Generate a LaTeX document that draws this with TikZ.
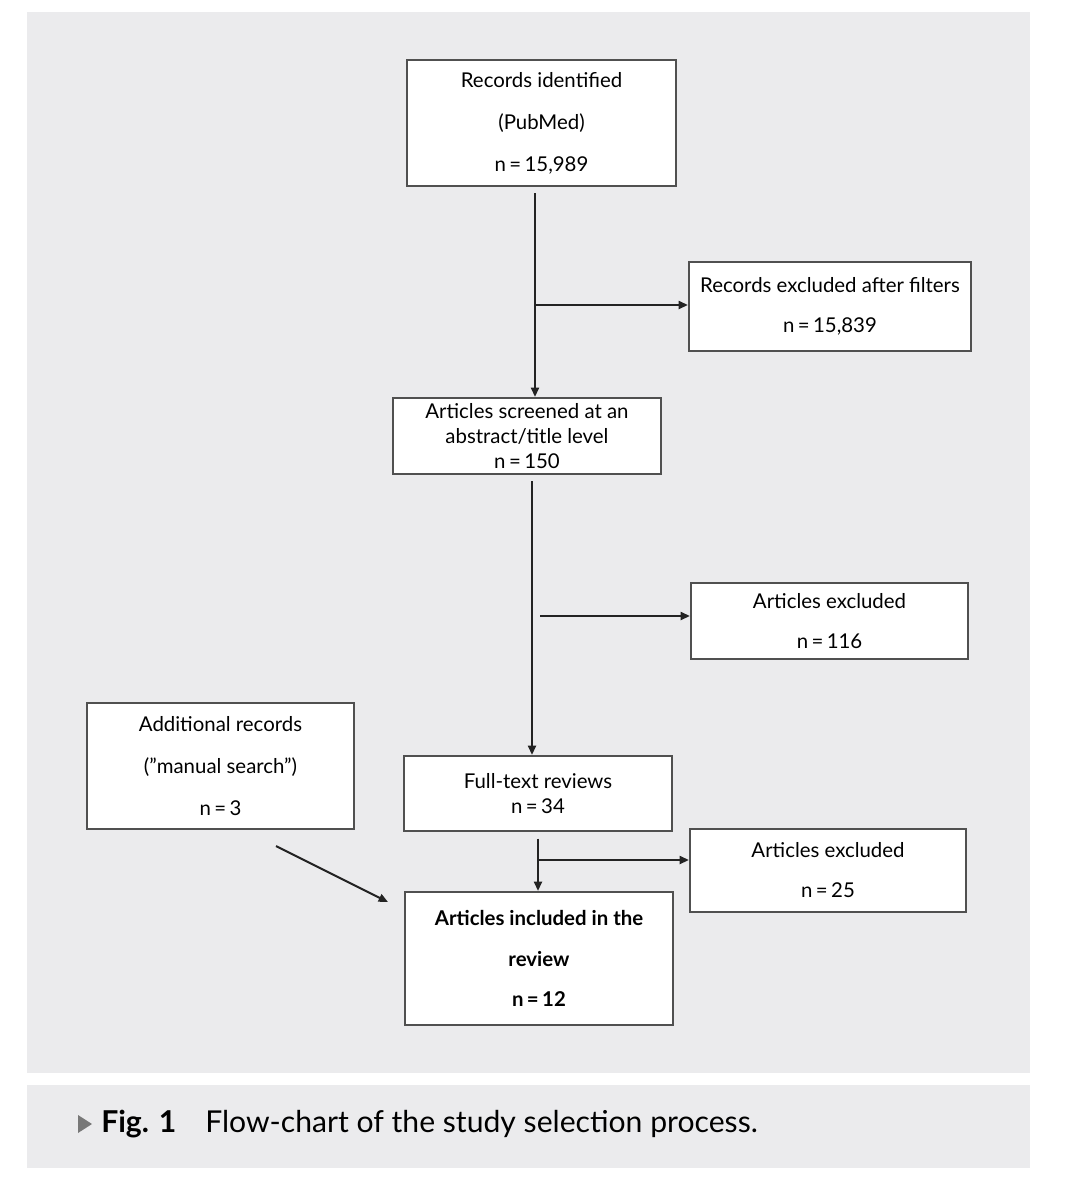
\documentclass[tikz,border=0pt]{standalone}
\usepackage{fontspec}
\setmainfont{Lato}
\usetikzlibrary{arrows.meta}
\definecolor{panel}{RGB}{235,235,237}
\definecolor{ink}{RGB}{35,35,35}
\definecolor{edge}{RGB}{80,80,80}
\definecolor{tri}{RGB}{120,120,120}
\begin{document}
\begin{tikzpicture}[x=0.75pt,y=-0.75pt,
  box/.style={draw=edge,fill=white,line width=1.6pt,align=center,inner sep=0pt,text=black},
  wide/.style={font=\fontsize{15.3}{31.5}\selectfont},
  tight/.style={font=\fontsize{15.3}{18.75}\selectfont},
  mid/.style={font=\fontsize{15.3}{30}\selectfont},
  arr/.style={draw=ink,line width=1.5pt,-{Triangle[length=7pt,width=6pt]}},
  ln/.style={draw=ink,line width=1.5pt}]
\useasboundingbox (0,0) rectangle (1065,1189);
\fill[white] (0,0) rectangle (1065,1189);
\fill[panel] (27,12) rectangle (1030,1073);
\fill[panel] (27,1085) rectangle (1030,1168);

\node[box,wide,minimum width=201.75pt,minimum height=94.5pt] (b1) at (541.5,123)
  {Records identified\\(PubMed)\\n\,=\,15,989};
\node[box,mid,minimum width=211.5pt,minimum height=66.75pt] (r1) at (830,306.5)
  {Records excluded after filters\\n\,=\,15,839};
\node[box,tight,minimum width=201pt,minimum height=57pt] (b2) at (527,436)
  {Articles screened at an\\abstract/title level\\n\,=\,150};
\node[box,mid,minimum width=207.75pt,minimum height=57pt] (r2) at (829.5,621)
  {Articles excluded\\n\,=\,116};
\node[box,wide,minimum width=200.25pt,minimum height=94.5pt] (ad) at (220.5,766)
  {Additional records\\(”manual search”)\\n\,=\,3};
\node[box,tight,minimum width=201pt,minimum height=56.25pt] (b3) at (538,793.5)
  {Full-text reviews\\n\,=\,34};
\node[box,mid,minimum width=207pt,minimum height=62.25pt] (r3) at (828,870.5)
  {Articles excluded\\n\,=\,25};
\node[box,wide,font=\fontsize{15.3}{30.5}\selectfont\bfseries,minimum width=201pt,minimum height=99.75pt] (b4) at (539,958.5)
  {Articles included in the\\review\\n\,=\,12};

% connectors
\coordinate (v1) at (535,0);
\coordinate (j1) at (535,305);
\draw[arr,shorten <=4.5pt] (b1.south -| v1) -- (b2.north -| v1);
\draw[arr] (j1) -- (r1.west |- j1);

\coordinate (v2) at (532,0);
\coordinate (j2) at (540,616);
\draw[arr,shorten <=4.5pt] (b2.south -| v2) -- (b3.north -| v2);
\draw[arr] (j2) -- (r2.west |- j2);

\coordinate (v3) at (538,0);
\coordinate (j3) at (538,860);
\draw[arr,shorten <=5pt] (b3.south -| v3) -- (b4.north -| v3);
\draw[arr] (j3) -- (r3.west |- j3);

\coordinate (d1) at (276,846);
\coordinate (d2) at (388,902);
\draw[arr] (d1) -- (d2);

% caption
\fill[tri] (78,1115) -- (92,1124) -- (78,1133) -- cycle;
\node[anchor=west,inner sep=0pt,font=\fontsize{22.6}{26}\selectfont\bfseries] (fig) at (101,1124) {Fig. 1};
\node[anchor=west,inner sep=0pt,font=\fontsize{22.6}{26}\selectfont] (cap) at (205,1124) {Flow-chart of the study selection process.};
\end{tikzpicture}
\end{document}
